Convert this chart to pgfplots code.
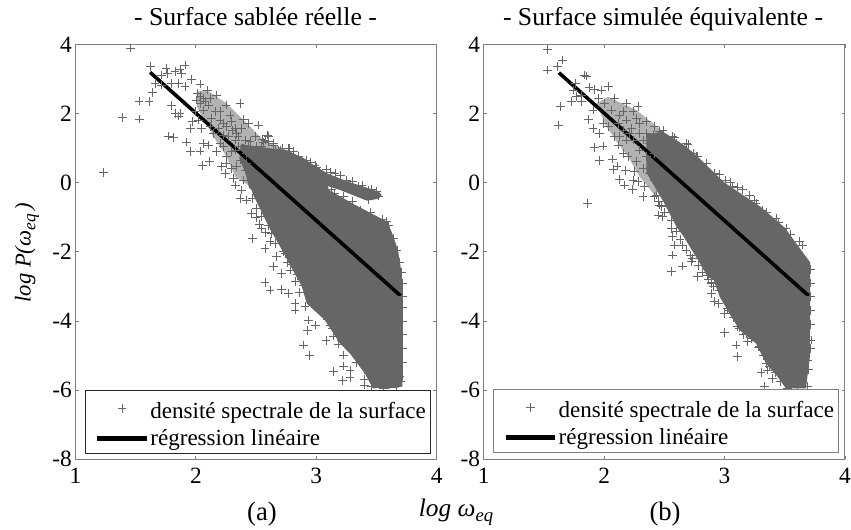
\documentclass[border=0pt]{standalone}
\usepackage{pgfplots}
\pgfplotsset{compat=1.18}
\usepackage{fontspec}
\setmainfont{Liberation Serif}
\definecolor{cl}{HTML}{666666}
\definecolor{fr}{HTML}{808080}
\pgfplotsset{
  panel/.style={
    scale only axis, width=270.9pt, height=311.25pt,
    xmin=1, xmax=4, ymin=-8, ymax=4,
    xtick={1,2,3,4}, xticklabels={1,2,3,4},
    ytick={-8,-6,-4,-2,0,2,4}, yticklabels={-8,-6,-4,-2,0,2,4},
    tick align=inside, major tick length=2.5pt,
    axis line style={fr,line width=0.7pt},
    tick style={fr,line width=0.6pt},
    ticklabel style={font=\fontsize{17.5}{17.5}\selectfont},
    xticklabel style={yshift=-3pt},
    yticklabel style={xshift=-0.5pt,inner sep=2pt},
    legend cell align=left,
    legend image code/.code={\path (0pt,0pt); \draw[mark repeat=2,mark phase=2,##1,line width=3.2pt] plot coordinates {(5.5pt,0pt)(24pt,0pt)(42.5pt,0pt)};},
    legend style={font=\fontsize{17.3}{21}\selectfont,fill=white,line width=0.6pt,
      inner xsep=2pt,inner ysep=3pt,row sep=4pt,nodes={inner sep=1.2pt},anchor=south west},
  },
  cloud/.style={only marks,mark=+,mark size=3.3pt,cl,mark options={line width=0.6pt,cl}},
  mid/.style={fill=cl,fill opacity=0.5,draw=none,forget plot},
  dense/.style={fill=cl,draw=none,forget plot},
  solid/.style={fill=cl,draw=cl,line width=1.5pt,line join=round,forget plot},
  reg/.style={black,line width=2.7pt},
}
\begin{document}
\begin{tikzpicture}
\useasboundingbox (0,0) rectangle (638.25pt,397.5pt);
\begin{axis}[panel,at={(56.6pt,53pt)},anchor=south west,
  legend style={at={(axis cs:1.08,-7.83)},draw=black!85}]
\addplot[mid] coordinates {
(2.007,2.63)(2.09,2.68)(2.256,2.29)(2.395,1.81)(2.56,1.23)(2.755,0.94)(2.8,0.7)(2.5,0.6)(2.45,-0.1)(2.326,0.17)(2.256,0.75)(2.146,1.33)(2.007,2.2)(2.007,2.63)
};
\addplot[dense] coordinates {
(2.4,1.1)(2.6,1.0)(2.755,0.94)(2.9,0.7)(3.1,0.2)(3.1,-0.2)(3.3,-0.6)(3.6,-1.15)(3.72,-3)(3.715,-5.9)(3.47,-5.95)(3.404,-5.52)(3.28,-4.94)(3.197,-4.65)(3.07,-3.97)(2.92,-3.49)(2.88,-3.0)(2.79,-2.43)(2.70,-1.85)(2.62,-1.37)(2.47,-0.31)(2.4,1.1)
};
\addplot[cloud] coordinates {
(1.231,0.298)(1.459,3.893)(1.625,3.353)(1.752,3.305)(1.763,3.160)(1.91,3.401)(1.869,3.276)(1.827,3.208)(1.882,3.16)(1.716,3.112)
(1.661,2.871)(1.716,2.823)(1.799,2.871)(1.855,2.871)(1.91,2.774)(1.966,2.986)(2.035,2.852)(1.641,2.611)(1.528,2.36)(1.611,2.34)
(1.392,1.888)(1.531,1.839)(1.799,2.225)(1.827,2.003)(1.855,1.926)(1.869,2.003)(1.974,1.762)(1.957,1.569)(1.772,1.348)(1.813,1.309)
(1.924,1.174)(1.957,0.895)(2.035,0.914)(2.057,0.49)(2.112,0.605)(2.215,0.461)(2.251,0.557)(2.243,0.268)(2.312,0.123)(2.326,-0.07)
(2.381,-0.214)(2.367,-0.455)(2.423,-0.503)(2.096,2.678)(2.173,2.533)(2.013,2.582)(2.367,2.292)(2.251,2.244)(2.118,2.437)(2.035,2.292)
(2.063,2.1)(1.993,2.051)(2.132,1.859)(2.201,2.051)(2.284,1.955)(2.395,1.83)(2.52,1.666)(2.436,1.714)(2.603,1.348)(2.575,1.232)
(2.492,1.328)(2.644,1.087)(2.7,0.943)(2.769,0.991)(2.063,1.136)(2.104,1.087)(2.173,0.895)(2.201,1.136)(2.256,0.75)(2.326,0.943)
(2.298,0.412)(2.409,0.364)(2.506,0.75)(2.326,1.569)(2.229,1.714)(2.146,1.425)(2.021,1.81)(2.049,1.569)
(2.035,2.485)(2.076,2.341)(2.007,2.389)(2.104,2.244)(2.063,2.437)(2.159,2.051)(2.201,1.81)(2.256,1.618)(2.298,1.762)(2.34,1.425)
(2.381,1.569)(2.27,1.328)(2.326,1.232)(2.409,1.232)(2.436,1.039)(2.353,1.039)(2.229,1.377)(2.118,1.618)(2.187,1.569)(2.478,0.943)
(2.547,1.039)(2.603,0.846)(2.672,0.798)(2.727,0.75)(2.367,0.653)(2.423,0.557)(2.34,0.461)(2.464,0.268)(2.395,0.075)(2.478,-0.021)
(2.423,0.846)(2.506,1.039)(2.298,0.894)(2.229,1.039)
(2.593,1.377)(2.643,1.136)(2.56,1.156)(2.684,0.944)(2.776,0.992)(2.809,0.895)(2.74,0.751)(2.823,0.606)(2.92,0.654)(2.989,0.51)
(2.906,0.317)(3.08,0.384)(3.155,0.269)(3.1,0.076)(3.252,0.076)(3.183,-0.02)(3.127,-0.194)(3.224,-0.406)(3.363,-0.792)(3.349,-0.117)
(3.432,-0.213)(3.501,-0.261)(3.515,-0.387)(3.432,-0.483)(3.28,-0.165)(3.03,0.317)(3.044,-0.02)(2.864,0.076)(2.892,0.462)(3.584,-1.129)
(2.463,-0.888)(2.504,-0.743)(2.546,-0.551)(2.546,-0.984)(2.546,-1.322)(2.471,-1.611)(2.574,-1.9)(2.615,-1.707)(2.629,-1.466)(2.671,-2.141)
(2.643,-2.43)(2.712,-2.623)(2.781,-2.527)(2.795,-2.19)(2.726,-1.997)(2.574,-2.893)(2.615,-3.105)(2.712,-3.086)(2.767,-3.2)(2.864,-3.182)
(2.823,-2.864)(2.892,-2.961)(2.961,-3.2)(3.031,-3.2)(3.1,-3.22)(2.92,-2.527)
(2.823,-3.491)(2.823,-3.684)(2.906,-3.588)(3.017,-3.684)(2.934,-3.973)(2.995,-4.118)(2.925,-4.282)(2.892,-4.696)(2.947,-5.005)(3.08,-4.571)
(3.141,-4.436)(3.183,-4.667)(3.21,-4.552)(3.266,-4.407)(3.224,-4.985)(3.294,-4.841)(3.335,-5.207)(3.224,-5.304)(3.141,-5.467)(3.28,-5.439)
(3.219,-5.728)(3.28,-5.631)(3.396,-5.689)(3.432,-5.516)(3.46,-5.882)(3.515,-5.805)(3.598,-5.853)(3.667,-5.9)(3.072,-3.877)(3.114,-4.118)
(3.183,-4.118)(3.404,-5.275)(3.681,-5.371)(3.695,-5.612)(3.515,-5.516)(3.64,-5.708)(3.557,-5.95)
(3.71,-2.6)(3.715,-2.9)(3.715,-3.3)(3.715,-3.6)(3.715,-4)(3.715,-4.4)(3.715,-4.8)(3.715,-5.2)(3.6,-1.25)(3.64,-1.6)(3.67,-1.95)(3.69,-2.3)
(2.47,-0.45)(2.5,-1.0)(2.53,-1.2)(2.58,-1.45)(2.6,-1.25)(2.66,-1.75)(2.7,-1.55)(2.74,-2.05)(2.76,-2.3)(2.8,-2.35)(2.84,-2.65)(2.88,-2.8)(2.93,-3.05)(2.96,-3.4)(3.0,-3.55)
(3.05,-3.75)(3.09,-3.95)(3.13,-4.2)(3.2,-4.4)(3.25,-4.65)(3.3,-4.6)(3.35,-4.95)(3.38,-5.1)(3.42,-5.35)(3.47,-5.6)(3.5,-5.75)(3.55,-5.85)(3.62,-5.8)(3.7,-5.75)(3.4,-5.85)
(2.6,1.2)(2.66,0.95)(2.72,1.0)(2.78,0.85)(2.85,0.75)(2.95,0.6)(3.0,0.45)(3.12,0.3)(3.2,0.2)(3.3,0.03)(3.38,-0.08)(3.46,-0.2)
(2.3,1.5)(2.35,1.35)(2.45,1.2)(2.55,1.25)(3.15,-0.3)(3.3,-0.55)(3.45,-0.85)(3.55,-1.05)
};
\addlegendentry{\rule{0pt}{17pt}densité spectrale de la surface}
\addplot[solid] coordinates {
(2.38,1.1)(2.50,0.95)(2.615,0.68)(2.757,0.25)(2.923,-0.10)(3.089,-0.36)(3.255,-0.65)(3.421,-0.88)(3.587,-1.17)(3.62,-1.45)(3.67,-1.95)(3.70,-2.6)(3.71,-3.3)(3.71,-5.7)(3.68,-5.9)(3.557,-5.93)
(3.446,-5.32)(3.363,-4.84)(3.252,-4.26)(3.14,-3.88)(3.003,-3.39)(2.906,-2.91)(2.86,-2.43)(2.82,-2.04)(2.75,-1.37)(2.66,-0.88)(2.505,-0.30)(2.449,-0.13)(2.42,0.28)(2.37,0.7)(2.38,1.1)
};
\addplot[solid,line width=1pt] coordinates {
(2.782,0.8)(2.923,0.60)(3.089,0.25)(3.255,0.02)(3.512,-0.27)(3.537,-0.358)(3.512,-0.45)(3.421,-0.50)(3.305,-0.34)(3.197,-0.19)(3.114,-0.10)(3.031,0.077)(2.85,0.2)(2.782,0.8)
};
\addplot[reg] coordinates {(1.62,3.19)(3.70,-3.27)};
\addlegendentry{régression linéaire}
\end{axis}
\begin{axis}[panel,at={(362.8pt,53pt)},anchor=south west,
  legend style={at={(axis cs:1.08,-7.8)},draw=fr}]
\addplot[mid] coordinates {
(2.033,2.48)(2.268,2.1)(2.489,1.47)(2.682,1.04)(2.6,0.5)(2.45,0)(2.433,-0.41)(2.295,0.17)(2.199,0.75)(2.116,1.13)(2.019,1.62)(1.936,2.29)(2.033,2.48)
};
\addplot[dense] coordinates {
(2.35,1.4)(2.489,1.47)(2.682,1.04)(2.792,0.7)(3.0,0)(3.3,-0.7)(3.5,-1.3)(3.71,-2.3)(3.71,-5)(3.676,-5.95)(3.51,-5.95)(3.44,-5.61)(3.345,-5.23)(3.262,-4.65)(3.124,-4.26)(3.04,-3.78)(2.96,-3.3)(2.91,-2.82)(2.86,-2.72)(2.78,-2.24)(2.66,-1.56)(2.6,-1.27)(2.5,-0.6)(2.35,0.3)(2.35,1.4)
};
\addplot[cloud] coordinates {
(1.527,3.854)(1.654,3.546)(1.61,3.353)(1.527,3.256)(1.84,3.112)(1.853,3.083)(1.638,2.196)(1.624,1.666)(1.765,2.871)(1.875,2.746)
(1.922,2.697)(1.978,2.678)(2.033,2.774)(1.729,2.341)(1.77,2.485)(1.812,2.341)(1.743,2.678)(1.812,2.533)(1.95,2.437)(2.005,2.292)
(2.088,2.437)(1.908,2.099)(1.873,1.83)(1.908,1.569)(1.964,1.425)(1.991,1.714)(1.922,1.02)(1.991,1.058)(1.964,0.634)(2.069,0.682)
(2.08,0.384)(2.107,0.48)(2.179,0.345)(2.254,0.316)(2.13,0.094)(2.171,-0.069)(2.24,0.056)(2.234,-0.195)(2.323,-0.407)(2.433,-0.359)
(1.862,-0.6)(2.461,-0.648)(2.53,-0.648)(2.281,0.027)(2.337,-0.118)(2.42,0.075)(2.199,0.75)(2.116,1.087)(2.185,1.232)(2.088,1.328)
(2.033,1.618)(2.129,1.955)(2.06,2.1)(2.185,2.292)(2.281,2.196)(2.268,1.858)(2.35,1.762)(2.42,1.618)(2.489,1.521)(2.585,1.309)
(2.696,1.116)(2.599,1.136)(2.765,0.75)(2.682,0.895)(2.295,1.425)(2.226,1.569)(2.378,1.136)(2.433,1.232)(2.295,0.943)
(2.406,1.377)(2.475,1.232)(2.516,1.039)(2.323,1.232)(2.24,1.232)(2.157,1.521)(2.185,1.81)(2.116,1.714)(2.24,2.051)(2.157,2.051)
(2.212,1.425)(2.295,1.714)(2.35,1.425)(2.42,0.846)(2.35,0.75)(2.268,0.605)(2.323,0.412)(2.378,0.268)(2.461,-0.021)(2.157,0.846)(2.129,1.328)
(2.461,1.474)(2.571,1.329)(2.599,1.136)(2.687,1.136)(2.696,0.895)(2.778,0.751)(2.723,0.799)(3.008,0.076)(3.11,-0.136)(3.068,-0.117)
(2.917,0.269)(3.317,-0.792)(3.428,-1.033)(3.51,-1.322)(3.262,-0.6)(3.207,-0.358)(3.649,-1.804)(2.419,-0.406)(2.475,-0.695)(2.488,-0.984)
(2.447,-0.936)(2.558,-1.322)(2.571,-1.563)(2.585,-1.804)(2.654,-1.804)(2.571,-2.093)(2.654,-2.411)(2.558,-2.575)(2.723,-2.286)(2.737,-2.19)
(2.709,-1.563)(2.654,-1.081)(2.778,-2.72)(2.861,-2.672)(2.944,-2.672)(2.889,-2.912)(2.889,-3.2)(2.958,-3.105)(3.041,-3.2)(2.806,-2.093)
(2.778,-1.852)(2.875,-2.43)
(2.889,-2.894)(2.917,-3.443)(2.972,-3.125)(3.041,-3.684)(3.0,-3.78)(3.0,-4.34)(3.096,-4.696)(3.11,-5.034)(3.11,-4.166)(3.124,-3.973)
(3.193,-4.6)(3.179,-4.359)(3.262,-4.552)(3.345,-5.226)(3.303,-5.496)(3.4,-5.66)(3.331,-5.882)(3.51,-5.709)(3.524,-5.95)(3.69,-5.9)
(3.607,-5.9)(3.593,-5.805)(3.358,-5.419)(3.414,-5.323)(3.29,-4.744)(3.345,-4.937)(3.69,-5.13)(3.718,-4.552)
(3.715,-2.5)(3.715,-2.9)(3.715,-3.3)(3.715,-3.7)(3.715,-4.1)(3.715,-4.8)
(2.45,-0.55)(2.5,-0.85)(2.56,-1.1)(2.6,-1.4)(2.63,-1.65)(2.68,-1.95)(2.72,-2.1)(2.78,-2.4)(2.82,-2.6)(2.87,-2.8)(2.91,-3.0)(2.95,-3.5)(3.02,-3.65)(3.07,-3.9)(3.12,-4.2)
(3.16,-4.4)(3.22,-4.5)(3.28,-4.75)(3.32,-5.0)(3.37,-5.3)(3.42,-5.5)(3.46,-5.75)(3.55,-5.85)(3.65,-5.7)(3.7,-5.4)
(2.55,1.2)(2.62,1.05)(2.74,0.85)(2.85,0.55)(2.96,0.25)(3.05,0.0)(3.15,-0.2)(3.25,-0.5)(3.35,-0.85)(3.45,-1.15)(3.55,-1.5)(3.62,-1.7)
};
\addlegendentry{\rule{0pt}{17pt}densité spectrale de la surface}
\addplot[reg] coordinates {(1.624,3.18)(3.698,-3.27)};
\addlegendentry{régression linéaire}
\end{axis}
\node[font=\fontsize{19.3}{22}\selectfont,anchor=base] at (191.6pt,378pt) {- Surface sablée réelle -};
\node[font=\fontsize{19.3}{22}\selectfont,anchor=base] at (497.3pt,378pt) {- Surface simulée équivalente -};
\node[font=\fontsize{20}{22}\selectfont,anchor=base] at (196.5pt,7pt) {(a)};
\node[font=\fontsize{20}{22}\selectfont,anchor=base] at (498.8pt,7pt) {(b)};
\node[font=\fontsize{19}{22}\selectfont\itshape,anchor=base west,inner sep=0pt] at (314pt,10pt) {log ω\raisebox{-0.45ex}{\fontsize{14}{14}\selectfont eq}};
\node[font=\fontsize{17}{20}\selectfont\itshape,rotate=90,anchor=base,inner sep=0pt] at (23pt,208pt) {log P(ω\raisebox{-0.45ex}{\fontsize{13}{13}\selectfont eq}\,)};
\end{tikzpicture}
\end{document}
